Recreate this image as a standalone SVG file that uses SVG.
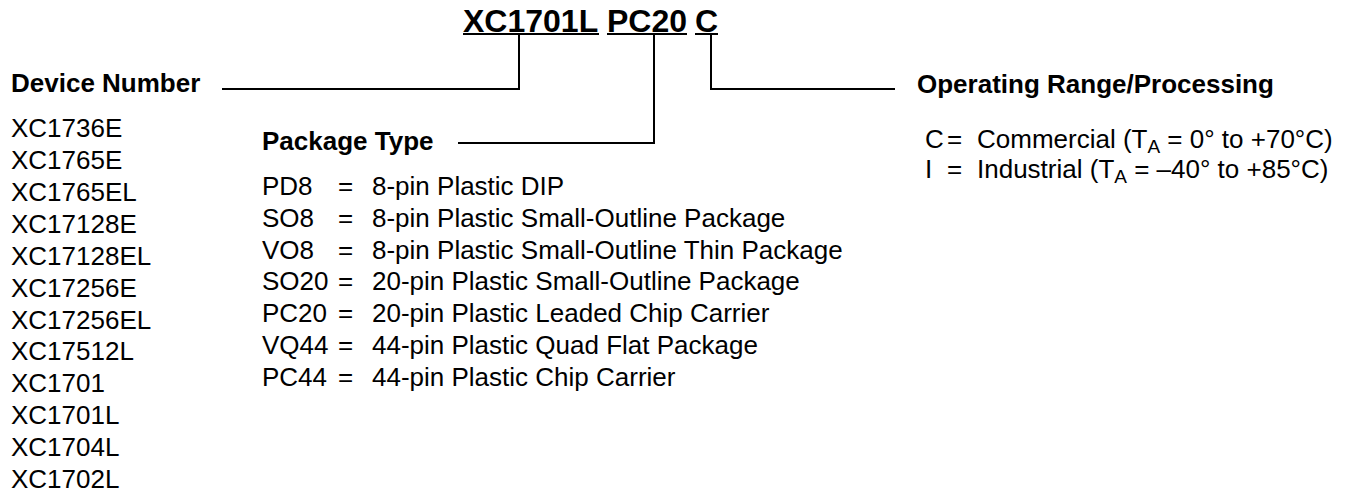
<svg xmlns="http://www.w3.org/2000/svg" width="1352" height="493" viewBox="0 0 1352 493">
<style>
text{font-family:"Liberation Sans",Arial,sans-serif;fill:#000}
.t{font-size:32px;font-weight:bold}
.h{font-size:26px;font-weight:bold}
.b{font-size:26px}
.sub{font-size:19px}
.ln{stroke:#000;stroke-width:2;fill:none}
</style>
<rect width="1352" height="493" fill="#fff"/>
<g id="part-number">
<text class="t" x="463" y="32">XC1701L</text>
<text class="t" x="607" y="32">PC20</text>
<text class="t" x="695" y="32">C</text>
<line class="ln" x1="463" y1="34" x2="599" y2="34"/>
<line class="ln" x1="607" y1="34" x2="687" y2="34"/>
<line class="ln" x1="695" y1="34" x2="718" y2="34"/>
</g>
<g id="connectors">
<polyline class="ln" points="519,34 519,89 222,89"/>
<polyline class="ln" points="654,34 654,143 458,143"/>
<polyline class="ln" points="711,34 711,89 895,89"/>
</g>
<g id="device-number">
<text class="h" x="11" y="92">Device Number</text>
<text class="b" x="11" y="137">XC1736E</text>
<text class="b" x="11" y="169">XC1765E</text>
<text class="b" x="11" y="201">XC1765EL</text>
<text class="b" x="11" y="233">XC17128E</text>
<text class="b" x="11" y="265">XC17128EL</text>
<text class="b" x="11" y="297">XC17256E</text>
<text class="b" x="11" y="329">XC17256EL</text>
<text class="b" x="11" y="360">XC17512L</text>
<text class="b" x="11" y="392">XC1701</text>
<text class="b" x="11" y="424">XC1701L</text>
<text class="b" x="11" y="456">XC1704L</text>
<text class="b" x="11" y="488">XC1702L</text>
</g>
<g id="package-type">
<text class="h" x="262" y="150">Package Type</text>
<text class="b" x="262" y="195">PD8</text><text class="b" x="338" y="195">=</text><text class="b" x="372" y="195">8-pin Plastic DIP</text>
<text class="b" x="262" y="227">SO8</text><text class="b" x="338" y="227">=</text><text class="b" x="372" y="227">8-pin Plastic Small-Outline Package</text>
<text class="b" x="262" y="259">VO8</text><text class="b" x="338" y="259">=</text><text class="b" x="372" y="259">8-pin Plastic Small-Outline Thin Package</text>
<text class="b" x="262" y="290">SO20</text><text class="b" x="338" y="290">=</text><text class="b" x="372" y="290">20-pin Plastic Small-Outline Package</text>
<text class="b" x="262" y="322">PC20</text><text class="b" x="338" y="322">=</text><text class="b" x="372" y="322">20-pin Plastic Leaded Chip Carrier</text>
<text class="b" x="262" y="354">VQ44</text><text class="b" x="338" y="354">=</text><text class="b" x="372" y="354">44-pin Plastic Quad Flat Package</text>
<text class="b" x="262" y="386">PC44</text><text class="b" x="338" y="386">=</text><text class="b" x="372" y="386">44-pin Plastic Chip Carrier</text>
</g>
<g id="operating-range">
<text class="h" x="917" y="93">Operating Range/Processing</text>
<text class="b" x="925" y="148">C</text><text class="b" x="947" y="148">=</text>
<text class="b" x="977" y="148">Commercial (T<tspan class="sub" dy="5">A</tspan><tspan dy="-5"> = 0° to +70°C)</tspan></text>
<text class="b" x="925" y="178">I</text><text class="b" x="947" y="178">=</text>
<text class="b" x="977" y="178">Industrial (T<tspan class="sub" dy="5">A</tspan><tspan dy="-5"> = –40° to +85°C)</tspan></text>
</g>
</svg>
